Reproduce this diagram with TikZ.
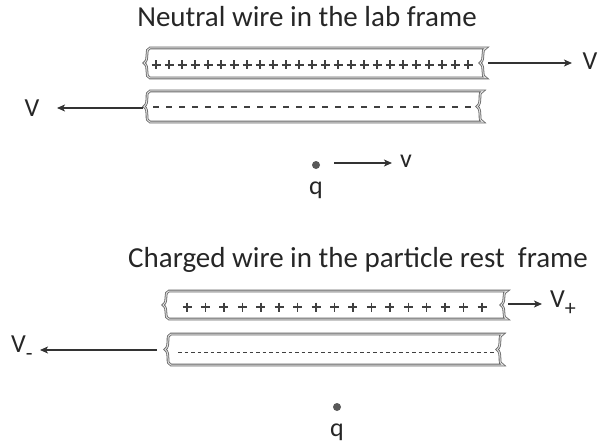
\documentclass[tikz,border=0pt]{standalone}
\usepackage{fontspec}
\setmainfont{Carlito}
\usetikzlibrary{arrows.meta}
\tikzset{
  wireedge/.style={draw=black!60, line width=0.8pt, double=black!12, double distance=1pt},
  arr/.style={draw=black!80, line width=1.3pt, -{Stealth[length=8pt,width=7pt,inset=2pt]}},
  lbl/.style={font=\fontsize{26}{30}\selectfont, text=black!85, inner sep=0pt},
  ttl/.style={font=\fontsize{29}{34}\selectfont, text=black!85, inner sep=0pt, anchor=base},
  pl/.style={draw=black!75, line width=1.5pt},
  dot/.style={circle, fill=black!65, minimum size=8pt, inner sep=0pt},
}
\newcommand{\wire}[4]{% left, right, top, bottom
  \path[wireedge] (#1+3,#3) -- (#2+3,#3)
    .. controls (#2-3,#3+1) and (#2+3,{(#3+#4)/2-4}) .. (#2-3,{(#3+#4)/2})
    .. controls (#2+3,{(#3+#4)/2+4}) and (#2-3,#4-1) .. (#2+3,#4)
    -- (#1+3,#4)
    .. controls (#1-3,#4-1) and (#1+3,{(#3+#4)/2+4}) .. (#1-3,{(#3+#4)/2})
    .. controls (#1+3,{(#3+#4)/2-4}) and (#1-3,#3+1) .. cycle;
}
\newcommand{\sbs}[1]{\raisebox{-0.3em}{\fontsize{22}{24}\selectfont #1}}
\begin{document}
\begin{tikzpicture}[x=1pt,y=-1pt]
\useasboundingbox (0,0) rectangle (600,444);
% --- top diagram
\node[ttl] (t1) at (307,27) {Neutral wire in the lab frame};
\wire{147}{483}{48}{78}
\wire{147}{480}{91}{122}
\foreach \i in {0,...,24} {
  \draw[pl] ({156+13*\i-4.5},65) -- ({156+13*\i+4.5},65) ({156+13*\i},60.5) -- ({156+13*\i},69.5);
}
\draw[black!75, line width=1.4pt, dash pattern=on 6pt off 7pt] (153,107) -- (472,107);
\coordinate (w1r) at (488,63);
\coordinate (w2l) at (143,108);
\node[lbl] (V1) at (590,61) {V};
\node[lbl] (V2) at (32,108) {V};
\draw[arr] (w1r) -- ++(84,0);
\draw[arr] (w2l) -- ++(-86,0);
\node[dot] (d1) at (316,165) {};
\node[lbl] (q1) at (316,190) {q};
\node[lbl] (v1) at (406,161) {v};
\draw[arr] (334,163) -- (392,163);
% --- bottom diagram
\node[ttl] (t2) at (358,267) {Charged wire in the particle rest\ \ frame};
\wire{166}{504}{291}{319}
\wire{168}{500}{334}{365}
\foreach \i in {0,...,16} {
  \draw[pl] ({187+18.44*\i-4.5},307) -- ({187+18.44*\i+4.5},307) ({187+18.44*\i},302.5) -- ({187+18.44*\i},311.5);
}
\draw[black!75, line width=1pt, dash pattern=on 3.5pt off 3pt] (178,352) -- (494,352);
\coordinate (w3r) at (508,304);
\coordinate (w4l) at (157,350);
\node[lbl, anchor=west] (V3) at (550,303) {V\sbs{+}};
\node[lbl, anchor=west] (V4) at (11,348) {V\sbs{-}};
\draw[arr] (w3r) -- ++(34,0);
\draw[arr] (w4l) -- ++(-117,0);
\node[dot] (d2) at (337,407) {};
\node[lbl] (q2) at (337,432) {q};
\end{tikzpicture}
\end{document}
